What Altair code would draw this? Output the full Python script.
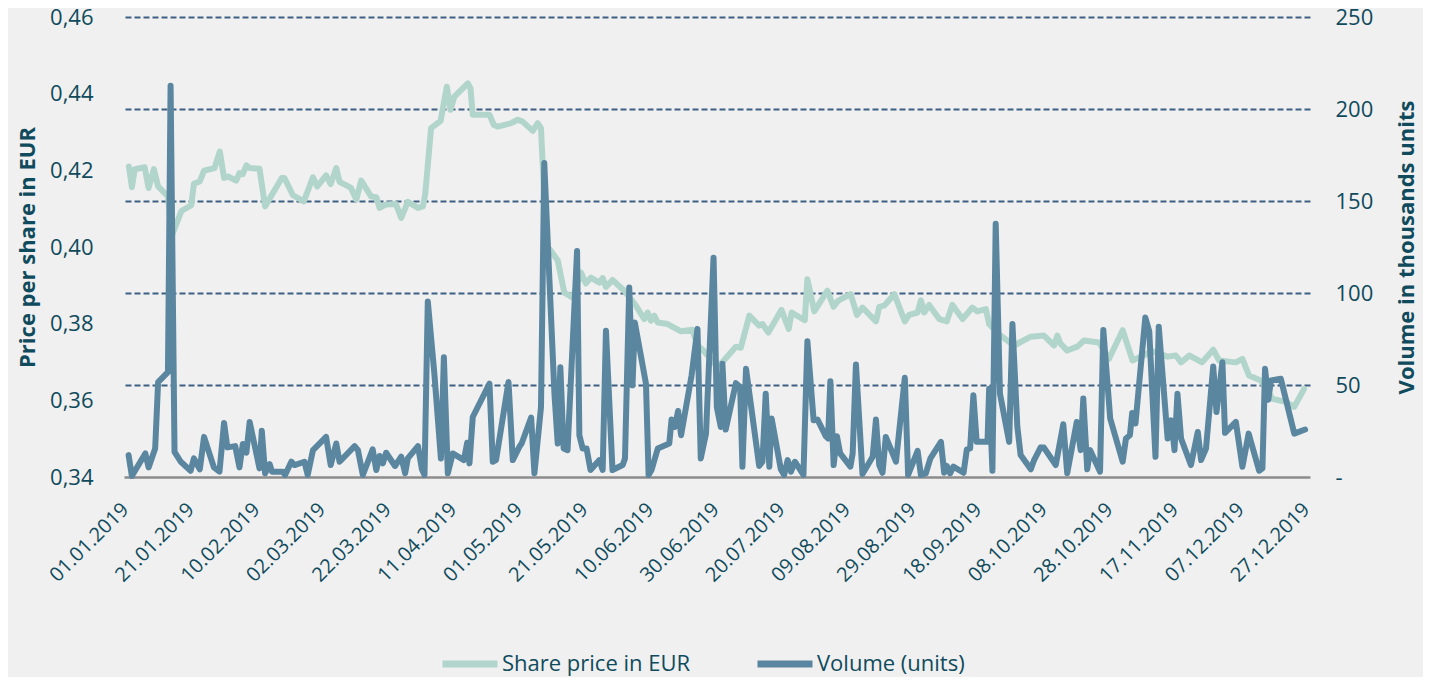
import altair as alt
import pandas as pd

# ---- data (day offsets from 01.01.2019) ----
price_day = [1.5, 2.4, 3.3, 6.3, 7.5, 9.1, 10.4, 13.4, 14.6, 17.5, 20.5, 21.3, 23.1, 24.4, 27.6, 29.2,
             30.5, 31.7, 34.2, 35.2, 36.2, 37.3, 38.3, 41.3, 43.0, 48.1, 48.9, 51.5, 54.8, 57.6, 58.9,
             61.6, 63.0, 64.7, 65.7, 69.2, 70.8, 72.3, 75.3, 76.9, 77.9, 79.9, 82.9, 84.5, 86.5, 89.6,
             91.1, 91.8, 93.6, 96.5, 98.4, 99.5, 100.7, 104.8, 105.6, 106.3, 111.4, 112.7, 113.9, 118.0,
             120.0, 121.5, 124.6, 126.1, 127.1, 128.8, 129.7, 132.2, 134.2, 136.8, 139.3, 140.8, 142.3,
             144.9, 145.9, 146.9, 148.9, 152.5, 156.0, 158.6, 159.6, 160.6, 161.6, 162.7, 165.7, 169.8,
             173.3, 174.8, 176.4, 180.0, 181.9, 186.5, 188.0, 190.6, 193.6, 194.6, 196.4, 200.4, 202.6,
             203.5, 207.5, 208.3, 210.4, 214.4, 216.3, 217.7, 221.5, 223.4, 225.1, 229.2, 230.2, 231.7,
             234.8, 238.0, 239.3, 241.9, 242.9, 243.9, 245.4, 248.5, 250.8, 252.5, 255.6, 258.6, 260.1,
             262.7, 263.7, 267.2, 271.3, 276.4, 280.4, 283.5, 284.5, 285.5, 287.5, 290.6, 292.6, 297.2,
             300.2, 304.4, 307.4, 313.5, 318.1, 320.6, 322.2, 324.7, 328.6, 332.0, 333.8, 338.9, 340.9,
             342.9, 346.5, 350.1, 354.1, 356.7, 359.7]
price_eur = [0.4210, 0.4156, 0.4203, 0.4208, 0.4154, 0.4203, 0.4158, 0.4132, 0.4030, 0.4094, 0.4109,
             0.4165, 0.4171, 0.4199, 0.4206, 0.4249, 0.4180, 0.4184, 0.4173, 0.4193, 0.4190, 0.4213,
             0.4206, 0.4204, 0.4106, 0.4180, 0.4180, 0.4135, 0.4119, 0.4182, 0.4158, 0.4187, 0.4164,
             0.4206, 0.4170, 0.4154, 0.4124, 0.4173, 0.4132, 0.4130, 0.4102, 0.4111, 0.4112, 0.4076,
             0.4118, 0.4102, 0.4106, 0.4137, 0.4310, 0.4329, 0.4418, 0.4358, 0.4392, 0.4427, 0.4414,
             0.4345, 0.4345, 0.4319, 0.4314, 0.4323, 0.4332, 0.4327, 0.4303, 0.4323, 0.4310, 0.4000,
             0.3995, 0.3965, 0.3881, 0.3868, 0.3933, 0.3905, 0.3920, 0.3907, 0.3919, 0.3896, 0.3914,
             0.3886, 0.3847, 0.3812, 0.3829, 0.3808, 0.3821, 0.3803, 0.3799, 0.3780, 0.3784, 0.3743,
             0.3732, 0.3696, 0.3695, 0.3740, 0.3737, 0.3821, 0.3795, 0.3799, 0.3777, 0.3836, 0.3786,
             0.3829, 0.3809, 0.3916, 0.3832, 0.3886, 0.3844, 0.3860, 0.3877, 0.3823, 0.3842, 0.3806,
             0.3844, 0.3847, 0.3877, 0.3806, 0.3823, 0.3829, 0.3861, 0.3829, 0.3849, 0.3812, 0.3806,
             0.3849, 0.3812, 0.3842, 0.3832, 0.3838, 0.3799, 0.3769, 0.3743, 0.3766, 0.3769, 0.3743,
             0.3769, 0.3747, 0.3730, 0.3740, 0.3756, 0.3751, 0.3708, 0.3783, 0.3704, 0.3728, 0.3714,
             0.3717, 0.3699, 0.3717, 0.3699, 0.3732, 0.3704, 0.3699, 0.3708, 0.3665, 0.3652, 0.3604,
             0.3596, 0.3583, 0.3630]

volume_day = [1.4, 2.4, 6.5, 7.5, 9.5, 10.4, 13.4, 14.2, 15.4, 17.3, 20.3, 21.3, 23.1, 24.4, 27.4,
              29.1, 30.5, 31.5, 33.9, 35.2, 36.2, 37.3, 38.3, 41.3, 42.0, 43.0, 44.4, 45.1, 48.4, 49.1,
              51.0, 52.0, 55.0, 56.0, 57.6, 58.6, 61.6, 63.0, 64.7, 65.7, 70.3, 71.3, 72.8, 75.8, 76.9,
              77.9, 78.9, 79.9, 82.6, 84.5, 85.7, 86.5, 89.6, 90.8, 91.6, 92.6, 94.6, 96.6, 97.5, 98.7,
              100.2, 103.6, 104.6, 105.3, 106.3, 111.4, 112.4, 113.4, 117.2, 118.5, 120.5, 121.2, 124.1,
              125.1, 127.1, 128.1, 131.2, 132.2, 133.0, 134.0, 135.2, 138.1, 138.8, 139.8, 141.0, 142.2,
              144.9, 145.9, 146.9, 148.9, 152.0, 152.7, 154.0, 155.0, 155.7, 159.1, 159.9, 160.8, 162.7,
              166.2, 166.9, 167.9, 168.9, 169.8, 173.0, 174.8, 175.8, 177.4, 179.7, 180.7, 181.9, 182.4,
              183.4, 186.5, 187.8, 188.5, 189.6, 193.6, 194.6, 195.6, 196.7, 197.4, 200.2, 201.2, 202.3,
              203.3, 204.5, 207.1, 208.3, 210.2, 211.4, 213.9, 214.6, 215.3, 216.3, 217.3, 218.3, 221.4,
              222.1, 223.1, 225.1, 228.2, 229.2, 230.2, 231.2, 232.2, 235.3, 238.0, 239.0, 241.9, 242.9,
              244.4, 245.8, 249.0, 250.0, 250.8, 251.8, 252.8, 255.9, 256.9, 257.9, 258.9, 259.9, 263.2,
              263.7, 264.7, 265.7, 267.0, 269.8, 270.8, 272.3, 273.3, 276.4, 277.4, 279.4, 280.4, 284.0,
              286.3, 287.5, 290.4, 291.6, 292.4, 293.6, 294.5, 297.5, 298.5, 300.6, 304.4, 305.4, 306.6,
              307.3, 308.3, 311.3, 312.5, 314.4, 315.4, 318.1, 319.2, 320.2, 321.1, 322.2, 325.2, 327.3,
              328.3, 329.8, 332.0, 333.0, 334.8, 335.6, 338.9, 340.9, 342.8, 346.0, 347.0, 347.8, 348.8,
              349.6, 352.6, 356.7, 360.0]
volume_k = [11.9, 0.5, 12.8, 5.2, 15.5, 51.6, 57.0, 212.7, 13.7, 8.3, 3.4, 10.1, 4.2, 21.8, 5.2,
            2.9, 29.4, 16.1, 16.8, 5.2, 17.9, 13.2, 29.9, 4.7, 25.1, 2.0, 7.0, 2.9, 2.9, 1.1,
            8.3, 6.5, 8.3, 1.1, 14.6, 16.4, 21.8, 6.5, 18.2, 8.3, 16.8, 14.6, 1.1, 15.0, 3.8,
            11.4, 7.4, 13.2, 6.0, 11.0, 2.0, 10.1, 16.8, 4.2, 1.1, 95.4, 56.1, 10.1, 65.1, 2.0,
            12.8, 9.2, 18.6, 7.4, 32.6, 50.7, 8.3, 9.2, 51.6, 9.2, 16.4, 18.2, 32.3,
            2.0, 38.0, 170.6, 45.3, 18.2, 59.7, 15.5, 14.6, 122.8, 22.7, 15.5, 15.5, 3.8,
            9.2, 3.8, 79.5, 3.8, 6.5, 10.1, 103.0, 49.8, 84.0, 50.7, 1.1, 3.8, 15.5,
            18.2, 31.2, 27.2, 35.9, 22.7, 55.2, 80.5, 10.1, 23.6, 119.2, 38.0, 27.2, 61.5,
            25.8, 51.0, 48.9, 5.6, 58.8, 6.0, 8.3, 45.3, 5.6, 31.8, 4.2, 1.1, 9.2,
            2.9, 8.3, 1.1, 73.8, 30.8, 31.2, 22.2, 20.9, 52.1, 6.5, 22.2, 12.8, 5.6,
            12.8, 61.1, 1.6, 11.0, 31.2, 6.5, 2.3, 21.8, 8.3, 53.9, 1.1, 14.2, 1.1,
            2.0, 10.1, 19.1, 2.3, 6.0, 2.0, 5.6, 2.3, 15.0, 15.5, 44.4, 19.1, 19.1,
            48.0, 3.4, 137.6, 45.3, 19.1, 83.2, 27.2, 11.9, 4.2, 9.2, 16.1, 16.0, 6.5,
            28.7, 2.0, 29.9, 14.6, 42.6, 4.2, 14.6, 2.9, 79.9, 31.8, 8.3, 20.9, 22.7,
            34.8, 29.1, 86.7, 79.2, 11.0, 81.7, 20.9, 30.8, 14.6, 45.3, 20.9, 6.5, 24.5,
            9.2, 15.5, 60.1, 35.3, 62.4, 24.0, 29.9, 5.6, 23.6, 3.4, 4.7, 58.8, 42.0,
            52.5, 53.4, 23.6, 25.8]

tick_labels = ["01.01.2019", "21.01.2019", "10.02.2019", "02.03.2019", "22.03.2019", "11.04.2019",
               "01.05.2019", "21.05.2019", "10.06.2019", "30.06.2019", "20.07.2019", "09.08.2019",
               "29.08.2019", "18.09.2019", "08.10.2019", "28.10.2019", "17.11.2019", "07.12.2019",
               "27.12.2019"]
price_ticks = [0.34, 0.36, 0.38, 0.40, 0.42, 0.44, 0.46]
volume_ticks = [0, 50, 100, 150, 200, 250]
series_names = ["Share price in EUR", "Volume (units)"]
series_colors = ["#b2d5cb", "#5b86a0"]

TEXT = "#0f4b5c"
FONT = "Open Sans"

base_date = pd.Timestamp("2019-01-01")
price_df = pd.DataFrame({
    "date": base_date + pd.to_timedelta(price_day, unit="D"),
    "price": price_eur,
    "series": series_names[0],
})
volume_df = pd.DataFrame({
    "date": base_date + pd.to_timedelta(volume_day, unit="D"),
    "volume": volume_k,
    "series": series_names[1],
})

tick_values = [alt.DateTime(year=int(s[6:]), month=int(s[3:5]), date=int(s[:2])) for s in tick_labels]

x_enc = alt.X(
    "date:T",
    title=None,
    scale=alt.Scale(domain=[alt.DateTime(year=2019, month=1, date=1),
                            alt.DateTime(year=2019, month=12, date=28, hours=12)]),
    axis=alt.Axis(values=tick_values, format="%d.%m.%Y", labelAngle=-45, labelFontSize=20,
                  labelPadding=22, labelOffset=-6, ticks=False, grid=False, domain=True,
                  domainColor="#8c8c8c", domainWidth=2.5, labelOverlap=False),
)

color_enc = alt.Color(
    "series:N",
    scale=alt.Scale(domain=series_names, range=series_colors),
    legend=alt.Legend(title=None, orient="none", legendX=315, legendY=616, direction="horizontal",
                      columns=2, symbolType="stroke", symbolSize=3025, symbolStrokeWidth=7,
                      labelFontSize=22, labelColor=TEXT, labelFont=FONT, labelOffset=1,
                      labelLimit=0, columnPadding=52, padding=0),
)

price_line = alt.Chart(price_df).mark_line(strokeWidth=6, strokeJoin="round", strokeCap="round").encode(
    x=x_enc,
    y=alt.Y("price:Q",
            scale=alt.Scale(domain=[0.34, 0.46], nice=False, zero=False),
            axis=alt.Axis(orient="left", values=price_ticks,
                          labelExpr="replace(format(datum.value, '.2f'), '.', ',')",
                          title="Price per share in EUR", grid=False, domain=False, ticks=False,
                          labelPadding=31, labelFontSize=22, titleFontSize=22, titleFontWeight="bold",
                          titleX=-97, titleY=230, titleAngle=270, titleAlign="center",
                          titleBaseline="middle")),
    color=color_enc,
)

volume_line = alt.Chart(volume_df).mark_line(strokeWidth=6, strokeJoin="round", strokeCap="round").encode(
    x=x_enc,
    y=alt.Y("volume:Q",
            scale=alt.Scale(domain=[0, 250], nice=False),
            axis=alt.Axis(orient="right", values=volume_ticks,
                          labelExpr="datum.value == 0 ? '-' : format(datum.value, 'd')",
                          title="Volume in thousands units", grid=True, gridDash=[6, 3],
                          gridColor="#3d5f82", gridWidth=2,
                          gridOpacity=alt.condition("datum.value == 0", alt.value(0), alt.value(1)),
                          domain=False, ticks=False, labelPadding=25, labelFontSize=22,
                          titleFontSize=22, titleFontWeight="bold", titleX=96, titleY=230,
                          titleAngle=270, titleAlign="center", titleBaseline="middle")),
    color=color_enc,
)

chart = alt.layer(price_line, volume_line).resolve_scale(y="independent").properties(
    width=1186,
    height=460,
    autosize=alt.AutoSizeParams(type="none"),
    padding={"left": 116, "top": 9, "right": 113, "bottom": 200},
    background="#f0f0f0",
).configure_view(stroke=None).configure_axis(
    labelFont=FONT, titleFont=FONT, labelColor=TEXT, titleColor=TEXT
).configure_legend(labelFont=FONT)

chart.save("out.html", embed_options={"renderer": "svg", "actions": False})
